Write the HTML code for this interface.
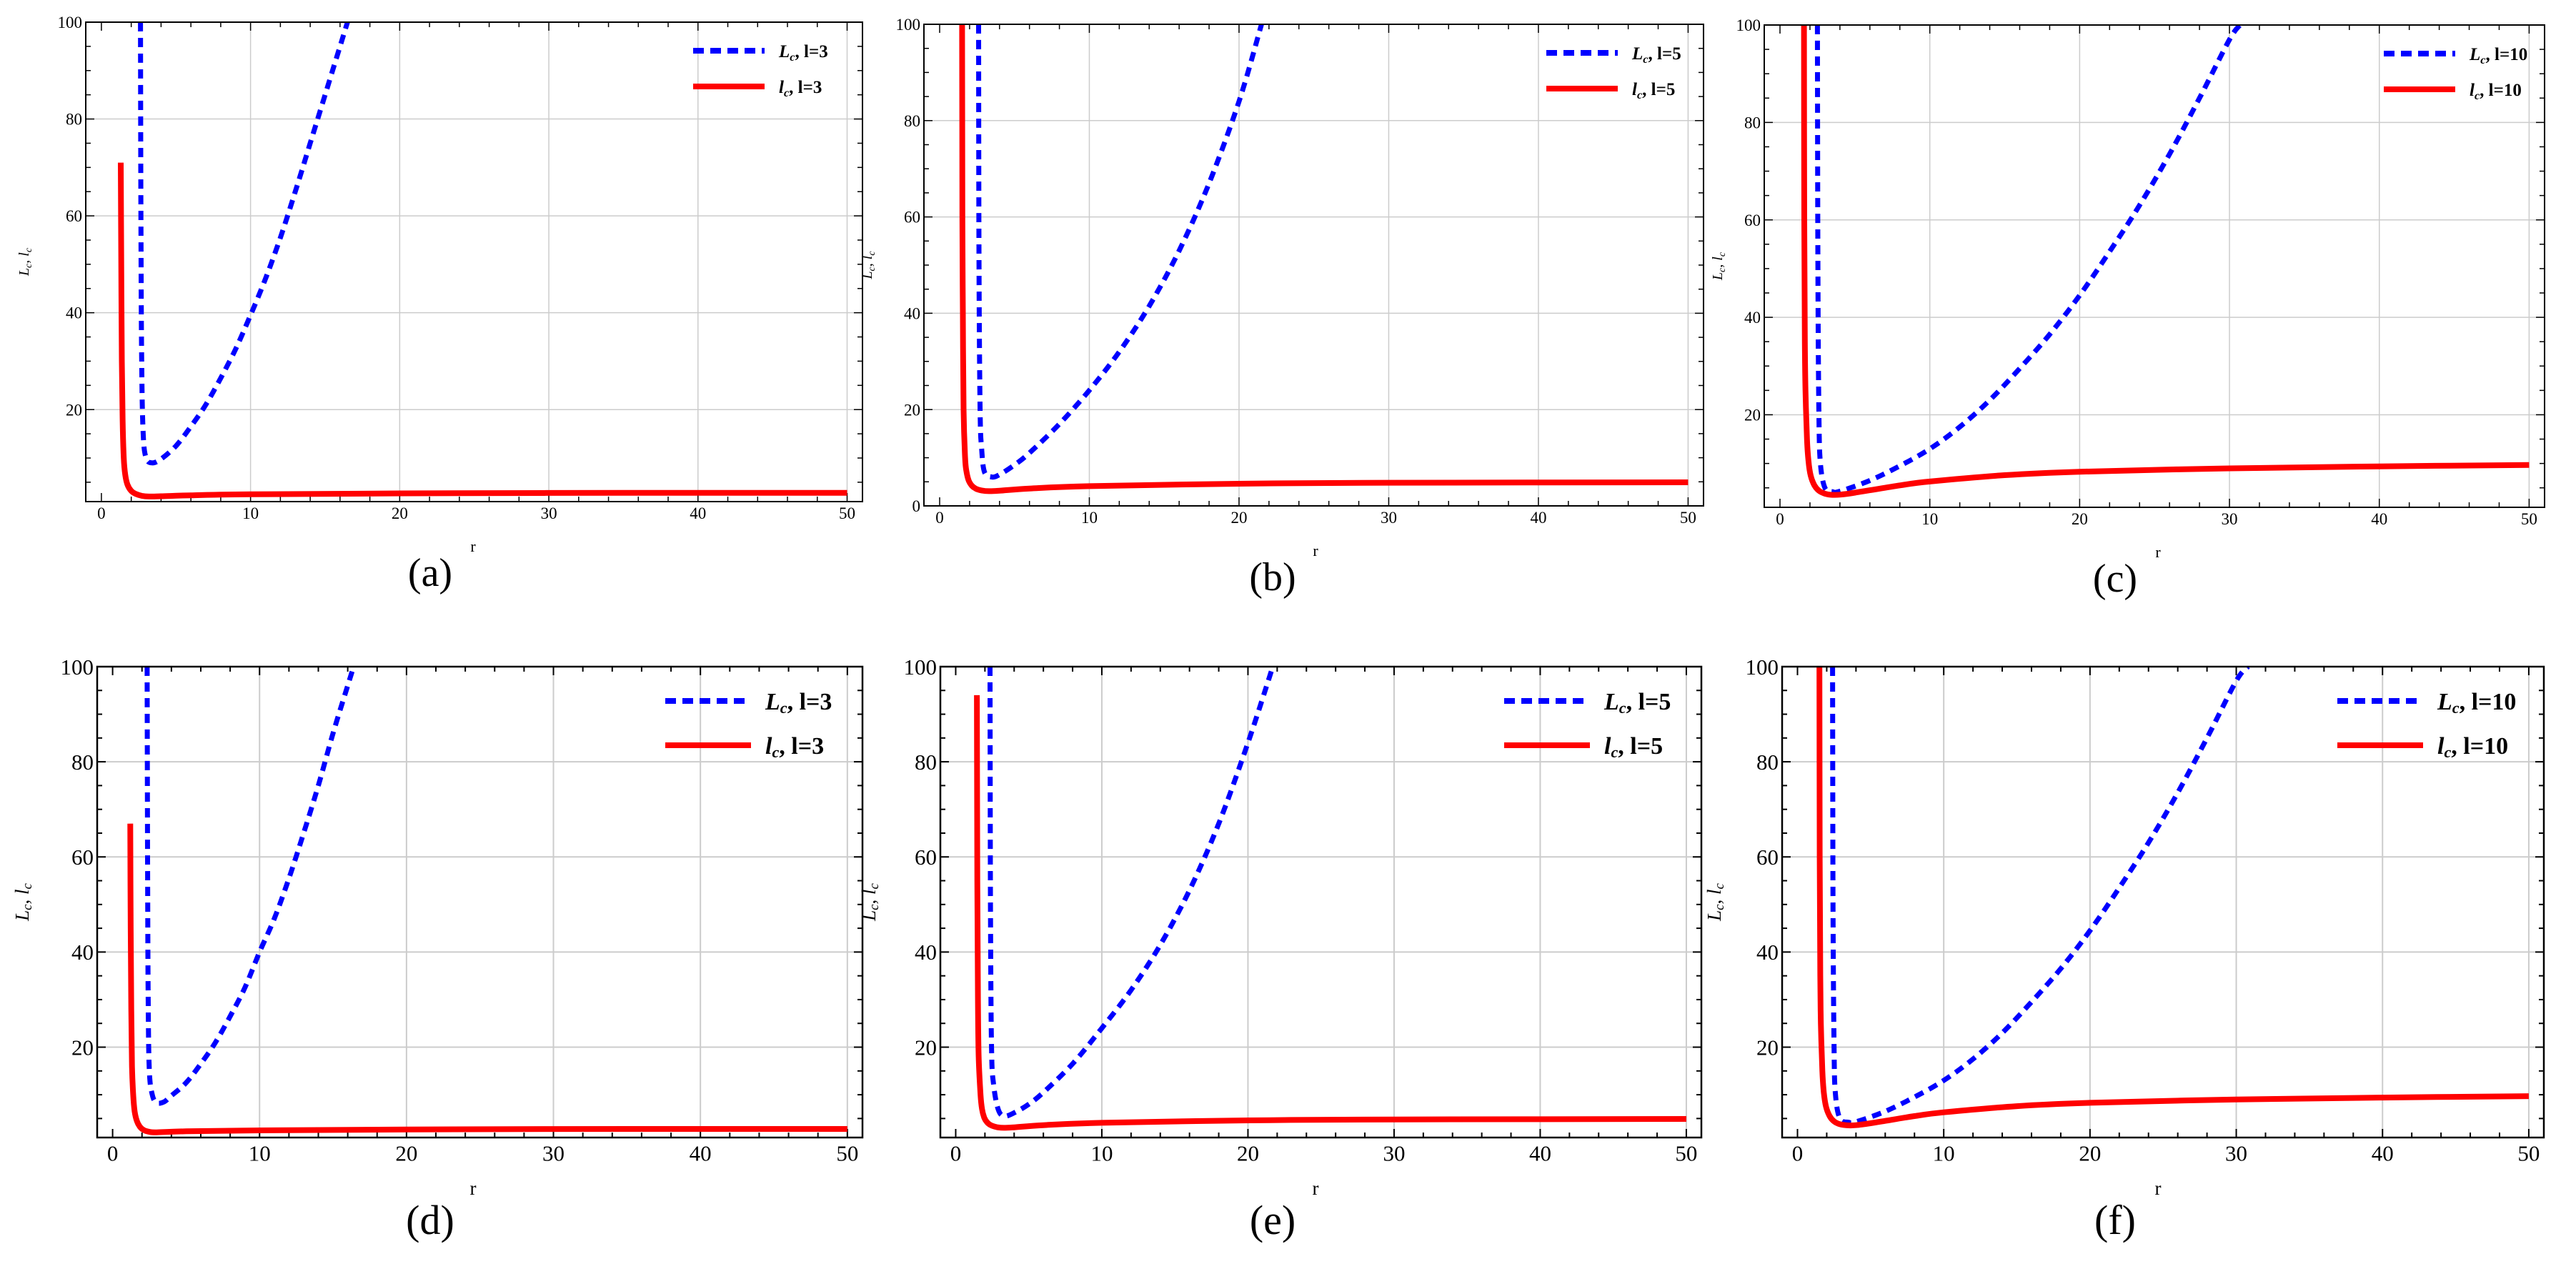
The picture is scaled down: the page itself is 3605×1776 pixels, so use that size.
<!DOCTYPE html>
<html><head><meta charset="utf-8"><style>
html,body{margin:0;padding:0;background:#fff;}
svg{display:block;}
text{font-family:"Liberation Serif",serif;fill:#000;}
</style></head>
<body>
<svg id="fig" width="3605" height="1776" viewBox="0 0 3605 1776" xmlns="http://www.w3.org/2000/svg"></svg>
<script>
// ---- data ----
const xTicks = [0,10,20,30,40,50];
const yTicksTop = [20,40,60,80,100];
const yTicksB = [0,20,40,60,80,100];
const panelLetters = ['a','b','c','d','e','f'];
const panelL = [3,5,10,3,5,10];

const aBlueR = [2.62,2.65,2.7,2.8,3.0,3.4,4,5,6,7,8,9,10,11,12,13,14,15,16,16.5];
const aBlueV = [100,60,30,15,10,9,9.8,12.5,16.5,21,26.5,32.5,39.5,47,55.5,65,75,85,95,100];
const aRedR = [1.3,1.33,1.37,1.42,1.5,1.6,1.75,2,2.3,2.7,3.2,4,6,10,20,35,50];
const aRedV = [71,50,30,18,10,6.5,4.5,3.2,2.6,2.2,2.05,2.1,2.3,2.5,2.7,2.8,2.8];

const bBlueR = [2.6,2.63,2.7,2.8,3.0,3.5,4,5,6,8,10,12,14,16,18,20,21.5];
const bBlueV = [100,50,20,12,7,6,6.5,8.5,11,17,24,32,41.5,53,67,84,100];
const bRedR = [1.5,1.52,1.55,1.6,1.7,1.8,1.95,2.15,2.4,2.8,3.3,4,6,10,20,30,50];
const bRedV = [100,60,40,20,10,7,5.2,4.2,3.6,3.2,3.05,3.15,3.6,4.1,4.6,4.8,4.9];

const cBlueR = [2.5,2.53,2.6,2.7,3.0,3.5,4,6,8,10,12,14,16,18,20,22,24,26,28,30,30.7];
const cBlueV = [100,50,20,10,5,4.2,4.3,6.5,9.5,13,17.5,23,29.5,36.5,44.5,53.5,63,73.5,85,97,100];
const cRedR = [1.6,1.62,1.66,1.7,1.8,1.9,2.05,2.3,2.6,3,3.5,4,5,6,8,10,15,20,30,40,50];
const cRedV = [100,60,35,25,15,10.5,7.5,5.5,4.4,3.8,3.55,3.6,4,4.5,5.5,6.3,7.6,8.3,9,9.4,9.7];

const dBlueR = [2.35,2.38,2.42,2.5,2.7,3.0,3.5,4,5,6,7,8,9,10,11,12,13,14,15,16,16.4];
const dBlueV = [100,60,30,15,10,8.3,8.5,9.8,12.5,16.5,21,26.5,32.5,40,47,55.5,65,75,86,96,100];
const dRedR = [1.2,1.23,1.27,1.32,1.4,1.5,1.65,1.85,2.1,2.5,3,5,10,20,35,50];
const dRedV = [67,45,28,16,10,6.5,4.5,3.3,2.6,2.2,2.1,2.3,2.5,2.7,2.8,2.8];

const eBlueR = [2.35,2.38,2.45,2.6,2.9,3.3,4,5,6,8,10,12,14,16,18,20,21.7];
const eBlueV = [100,50,20,12,7,5.5,6.2,8,10.5,16.5,24,32,41.5,53,67,84,100];
const eRedR = [1.45,1.48,1.52,1.57,1.7,1.8,1.95,2.15,2.4,2.8,3.3,4,6,10,20,30,50];
const eRedV = [94,55,30,18,10,7,5.2,4.2,3.6,3.2,3.05,3.15,3.6,4.1,4.6,4.8,4.9];

const fBlueR = [2.4,2.43,2.5,2.6,2.9,3.5,4,6,8,10,12,14,16,18,20,22,24,26,28,30,30.8];
const fBlueV = [100,50,20,10,5,4.2,4.3,6.5,9.5,13,17.5,23,29.5,36.5,44.5,53.5,63,73.5,85,97,100];
const fRedR = [1.5,1.52,1.56,1.6,1.7,1.8,1.95,2.2,2.5,2.9,3.5,4,5,6,8,10,15,20,30,40,50];
const fRedV = [100,60,35,25,15,10.5,7.5,5.5,4.4,3.8,3.55,3.6,4,4.5,5.5,6.3,7.6,8.3,9,9.4,9.7];

const blueR = [aBlueR,bBlueR,cBlueR,dBlueR,eBlueR,fBlueR];
const blueV = [aBlueV,bBlueV,cBlueV,dBlueV,eBlueV,fBlueV];
const redR = [aRedR,bRedR,cRedR,dRedR,eRedR,fRedR];
const redV = [aRedV,bRedV,cRedV,dRedV,eRedV,fRedV];

// ---- layout ----
const geo = [
 {l:120,r:1207,t:31,b:702,ymin:1,big:false,lab:602,ylab:40,legX:970},
 {l:1293,r:2384,t:34,b:708,ymin:0,big:false,lab:1781,ylab:1220,legX:2164},
 {l:2469,r:3561,t:35,b:710,ymin:1,big:false,lab:2960,ylab:2410,legX:3336},
 {l:136,r:1207,t:933,b:1592,ymin:1,big:true,lab:602,ylab:40,legX:931},
 {l:1316,r:2381,t:933,b:1592,ymin:1,big:true,lab:1781,ylab:1225,legX:2105},
 {l:2494,r:3560,t:933,b:1592,ymin:1,big:true,lab:2960,ylab:2408,legX:3271}
];
const XMIN=-1.05, XMAX=51.03, YMAX=100;
const NS='http://www.w3.org/2000/svg';
const svg=document.getElementById('fig');
function mk(tag,attrs,parent){const e=document.createElementNS(NS,tag);for(const k in attrs)e.setAttribute(k,attrs[k]);(parent||svg).appendChild(e);return e;}
function smooth(p){ // catmull-rom to bezier
  let d='M'+p[0][0].toFixed(1)+','+p[0][1].toFixed(1);
  for(let k=0;k<p.length-1;k++){
    const p0=p[k-1]||p[k],p1=p[k],p2=p[k+1],p3=p[k+2]||p2;
    const c1=[p1[0]+(p2[0]-p0[0])/6,p1[1]+(p2[1]-p0[1])/6];
    const c2=[p2[0]-(p3[0]-p1[0])/6,p2[1]-(p3[1]-p1[1])/6];
    d+=' C'+c1.map(v=>v.toFixed(1)).join(',')+' '+c2.map(v=>v.toFixed(1)).join(',')+' '+p2[0].toFixed(1)+','+p2[1].toFixed(1);
  }
  return d;
}

geo.forEach((g,i)=>{
  const grp=mk('g',{});
  
  
  const sx=v=>g.l+(v-XMIN)/(XMAX-XMIN)*(g.r-g.l);
  const sy=v=>g.b-(v-g.ymin)/(YMAX-g.ymin)*(g.b-g.t);
  const fs=g.big?31:23;
  const gw=g.big?2:1.5;
  const grid=mk('g',{stroke:'#cccccc','stroke-width':gw},grp);
  
  
  xTicks.forEach(v=>{if(v>0)mk('line',{x1:sx(v),x2:sx(v),y1:g.t,y2:g.b},grid);});
  [20,40,60,80].forEach(v=>mk('line',{x1:g.l,x2:g.r,y1:sy(v),y2:sy(v)},grid));
  const tk=mk('g',{stroke:'#000','stroke-width':g.big?2:1.5},grp);
  
  
  for(let v=0;v<=50;v+=2){const L=(v%10===0)?12:7;const x=sx(v);
    mk('line',{x1:x,x2:x,y1:g.b,y2:g.b-L},tk);mk('line',{x1:x,x2:x,y1:g.t,y2:g.t+L},tk);}
  for(let v=5;v<=100;v+=5){if(v<g.ymin)continue;const L=(v%20===0)?12:7;const y=sy(v);
    mk('line',{x1:g.l,x2:g.l+L,y1:y,y2:y},tk);mk('line',{x1:g.r,x2:g.r-L,y1:y,y2:y},tk);}
  xTicks.forEach(v=>{const t=mk('text',{x:sx(v),y:g.b+fs*1.05,'font-size':fs,'text-anchor':'middle'},grp);t.textContent=v;
    });
  (i===1?yTicksB:yTicksTop).forEach(v=>{const t=mk('text',{x:g.l-5,y:sy(v)+fs*0.35,'font-size':fs,'text-anchor':'end'},grp);t.textContent=v;
    });
  const cid='clip'+i;
  const cp=mk('clipPath',{id:cid},grp);mk('rect',{x:g.l,y:g.t,width:g.r-g.l,height:g.b-g.t},cp);
  const ptsB=blueR[i].map((r,k)=>[sx(r),sy(blueV[i][k])]);
  const pb=mk('path',{d:smooth(ptsB),fill:'none',stroke:'#0000ff','stroke-width':7,'stroke-dasharray':'13 9','clip-path':'url(#'+cid+')'},grp);
  
  
  const ptsR=redR[i].map((r,k)=>[sx(r),sy(redV[i][k])]);
  const pr=mk('path',{d:smooth(ptsR),fill:'none',stroke:'#ff0000','stroke-width':8,'stroke-linejoin':'round','clip-path':'url(#'+cid+')'},grp);
  
  
  const fr=mk('rect',{x:g.l,y:g.t,width:g.r-g.l,height:g.b-g.t,fill:'none',stroke:'#000','stroke-width':g.big?2.5:2},grp);
  
  
  const lfs=g.big?34:25;
  const ly1=g.t+(g.big?48:40), ly2=g.t+(g.big?110:90);
  const dl=g.big?120:100;
  const leg=mk('g',{},grp);
  
  
  mk('line',{x1:g.legX,x2:g.legX+dl,y1:ly1,y2:ly1,stroke:'#0000ff','stroke-width':8,'stroke-dasharray':'15 9'},leg);
  mk('line',{x1:g.legX,x2:g.legX+dl,y1:ly2,y2:ly2,stroke:'#ff0000','stroke-width':8},leg);
  [[ly1,'L'],[ly2,'l']].forEach(([yy,ch])=>{
    const t=mk('text',{x:g.legX+dl+20,y:yy+lfs*0.35,'font-size':lfs,'font-weight':'bold'},leg);
    
    
    t.innerHTML='<tspan font-style="italic">'+ch+'</tspan><tspan font-style="italic" font-size="'+(lfs*0.65)+'" dy="5">c</tspan><tspan dy="-5">, l='+panelL[i]+'</tspan>';
  });
  const ylfs=g.big?27:20;
  const yl=(g.t+g.b)/2;
  const ya=mk('text',{x:g.ylab,y:yl,'font-size':ylfs,'text-anchor':'middle',transform:'rotate(-90 '+g.ylab+' '+yl+')'},grp);
  
  
  ya.innerHTML='<tspan font-style="italic">L</tspan><tspan font-style="italic" font-size="'+(ylfs*0.7)+'" dy="4">c</tspan><tspan dy="-4">, </tspan><tspan font-style="italic">l</tspan><tspan font-style="italic" font-size="'+(ylfs*0.7)+'" dy="4">c</tspan>';
  const rx=mk('text',{x:g.lab+60,y:g.b+(g.big?80:70),'font-size':g.big?27:22,'text-anchor':'middle'},grp);
  rx.textContent='r';
  
  
  const pl=mk('text',{x:g.lab,y:g.b+(g.big?135:118),'font-size':g.big?58:56,'text-anchor':'middle'},grp);
  pl.textContent='('+panelLetters[i]+')';
  
  
});
</script>
</body></html>
